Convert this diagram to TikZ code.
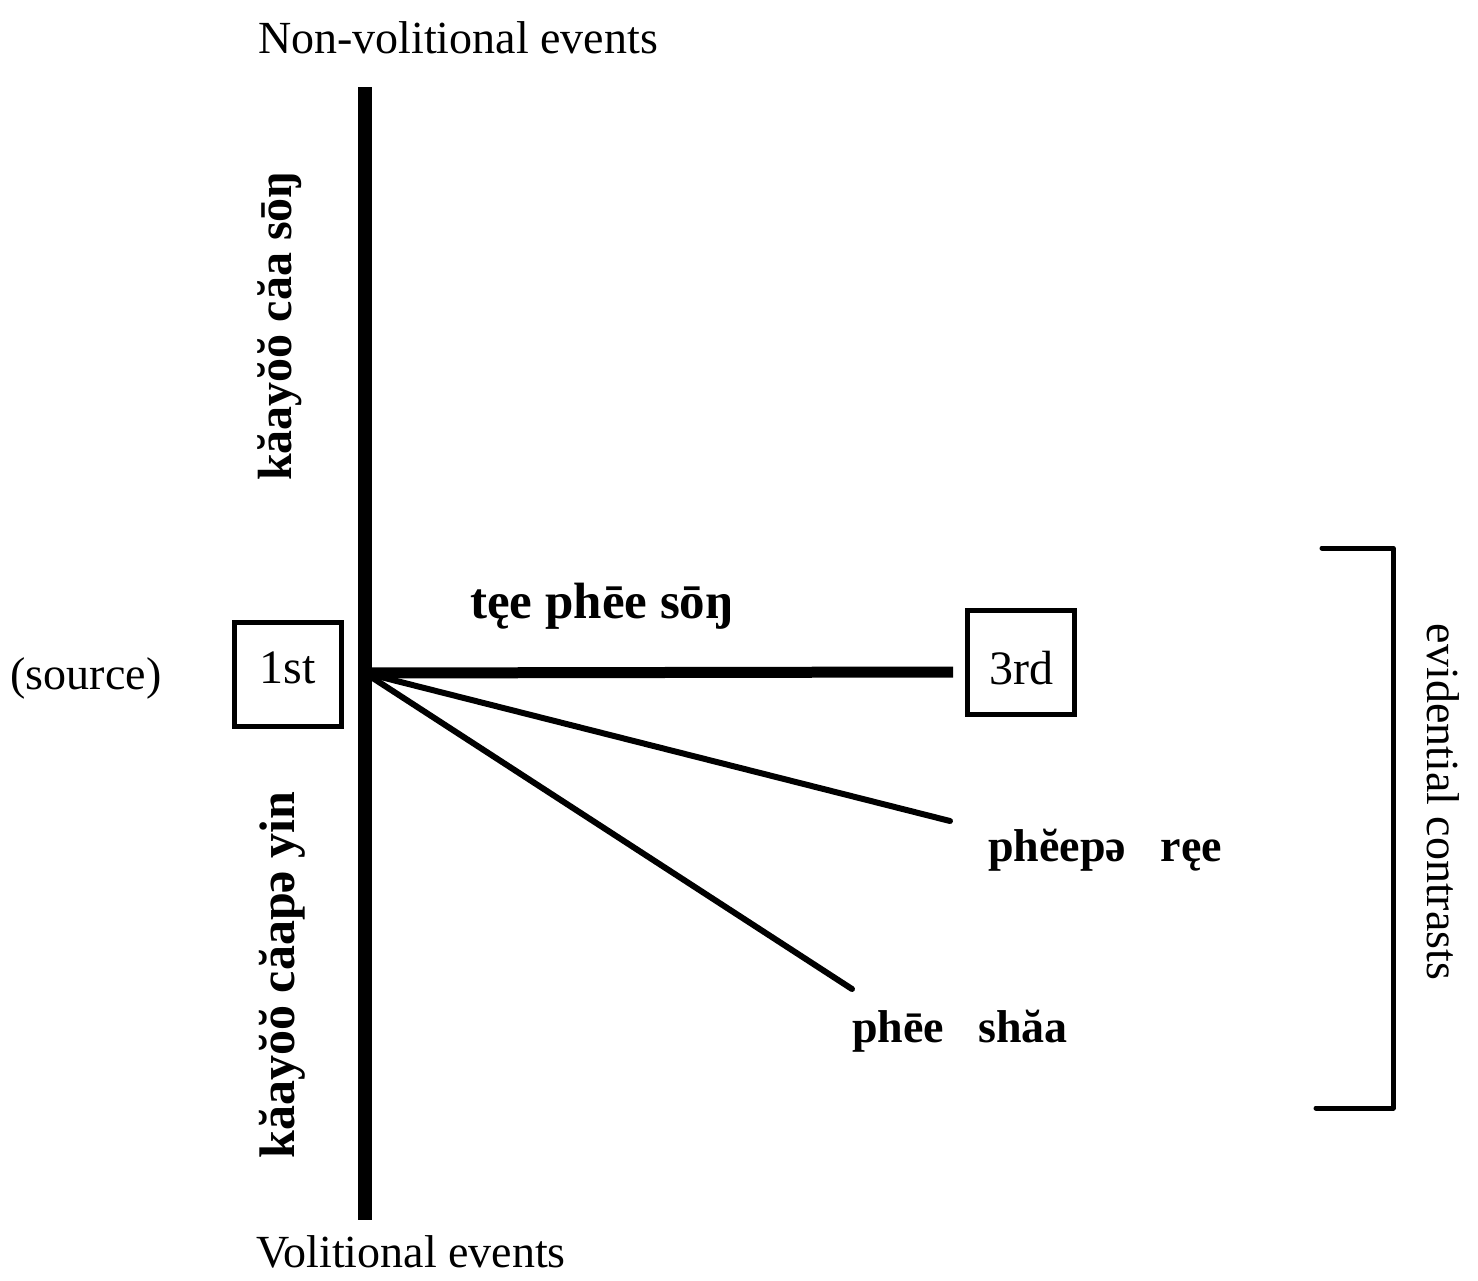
\documentclass[tikz,border=0pt]{standalone}
\usepackage{fontspec}
\setmainfont{Liberation Serif}
\begin{document}
\begin{tikzpicture}[x=1pt,y=-1pt,
  en/.style={inner sep=0pt, font=\fontsize{46}{50}\selectfont},
  ph/.style={inner sep=0pt, font=\fontsize{46}{50}\selectfont\bfseries},
  personbox/.style={draw, line width=5pt, inner sep=0pt, minimum width=107pt, minimum height=104pt, font=\fontsize{48}{50}\selectfont},
  axis/.style={line width=14pt},
  ray/.style={line width=6pt, line cap=round},
  bracketline/.style={line width=5pt, line cap=round, line join=round}]
\useasboundingbox (0,0) rectangle (1478,1280);

% axis of volitionality
\coordinate (top) at (365,87);
\coordinate (bottom) at (365,1220);
\coordinate (origin) at (365,673);
\draw[axis] (top) -- (bottom);

\node[en] (nonvol) at (458,38) {Non-volitional events};
\node[en] (vol) at (411,1252) {Volitional events};

\node[ph, rotate=90, font=\fontsize{48}{50}\selectfont\bfseries] (upper) at (280,326) {kăayŏŏ căa sōŋ};
\node[ph, rotate=90, font=\fontsize{50}{50}\selectfont\bfseries] (lower) at (282,975) {kăayŏŏ căapə yin};

% source of information
\node[en] (source) at (86,678) {(source)};
\node[personbox] (first) at (288,674) {\raisebox{12pt}{1st}};
\node[personbox] (third) at (1021,662) {\rule{0pt}{46pt}3rd};

% evidential rays
\coordinate (rayA) at (953,672);
\coordinate (rayB) at (950,821);
\coordinate (rayC) at (852,989);
\draw[line width=11pt] (origin) -- (rayA);
\draw[ray] (origin) -- (rayB);
\draw[ray] (origin) -- (rayC);

\node[ph, font=\fontsize{51}{50}\selectfont\bfseries] (teephee) at (602,606) {tęe phēe sōŋ};
\node[ph] (pheepe) at (1105,850) {phĕepə\hspace{0.5em} ręe};
\node[ph] (pheeshaa) at (960,1031) {phēe\hspace{0.5em} shăa};

% bracket over the contrasts
\coordinate (brA) at (1322,548);
\coordinate (brB) at (1393,548);
\coordinate (brC) at (1393,1108);
\coordinate (brD) at (1316,1108);
\draw[bracketline] (brA) -- (brB) -- (brC) -- (brD);
\node[en, rotate=-90] (evid) at (1443,802) {evidential contrasts};
\end{tikzpicture}
\end{document}
